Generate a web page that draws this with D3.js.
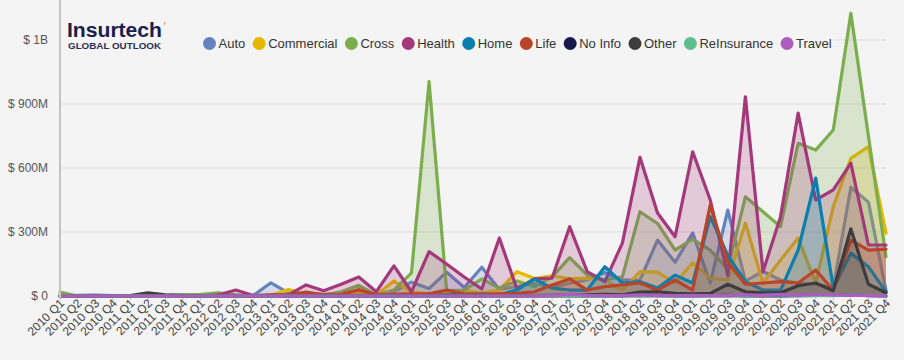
<!DOCTYPE html>
<html><head><meta charset="utf-8">
<script src="https://cdn.jsdelivr.net/npm/d3@7/dist/d3.min.js"></script>
<style>
html,body{margin:0;padding:0;background:#f4f4f4;}
svg{display:block;font-family:"Liberation Sans",Arial,sans-serif;}
</style></head>
<body><svg id="chart" width="904" height="360"></svg>
<script>
const quarters = ["2010 Q1","2010 Q2","2010 Q3","2010 Q4","2011 Q1","2011 Q2","2011 Q3","2011 Q4",
"2012 Q1","2012 Q2","2012 Q3","2012 Q4","2013 Q1","2013 Q2","2013 Q3","2013 Q4",
"2014 Q1","2014 Q2","2014 Q3","2014 Q4","2015 Q1","2015 Q2","2015 Q3","2015 Q4",
"2016 Q1","2016 Q2","2016 Q3","2016 Q4","2017 Q1","2017 Q2","2017 Q3","2017 Q4",
"2018 Q1","2018 Q2","2018 Q3","2018 Q4","2019 Q1","2019 Q2","2019 Q3","2019 Q4",
"2020 Q1","2020 Q2","2020 Q3","2020 Q4","2021 Q1","2021 Q2","2021 Q3","2021 Q4"];

const seriesNames = ["Auto","Commercial","Cross","Health","Home","Life","No Info","Other","ReInsurance","Travel"];
const seriesColors = ["#6382bf","#e6b700","#7cad4f","#a3387b","#0a7fad","#b9442a","#16194a","#3d3d3d","#5dbf8d","#ad5cbf"];

// values in $ millions
const auto       = [0,3,4,2,0,1,2,6,3,2,2,3, 62,15,10,8,12,15,5,20,65,35,112,40,135,30,45,60,40,60,75,110,75,75,262,158,295,60,403,70,115,75,60,55,40,510,440,25];
const commercial = [3,0,2,0,0,2,2,3,5,8,3,2, 5,30,8,5,10,12,5,70,20,10,15,25,15,28,114,82,95,80,84,75,28,114,112,61,156,84,75,342,61,169,272,61,419,645,700,295];
const cross      = [18,0,0,0,0,5,2,5,8,15,5,0, 3,8,10,5,20,50,5,28,108,1005,25,28,80,37,70,44,90,180,98,75,90,395,340,215,267,215,125,465,395,325,716,684,778,1325,750,184];
const health     = [0,0,0,0,0,0,0,2,0,5,28,2, 5,5,52,25,55,89,20,141,20,208,150,89,33,272,33,80,84,325,114,67,248,650,389,278,676,450,95,934,114,372,857,450,497,623,239,239];
const home       = [0,0,0,0,0,0,0,0,0,0,0,0, 0,0,0,0,0,0,0,2,5,3,5,8,10,5,28,80,37,28,28,137,61,67,37,98,61,372,190,67,28,28,215,553,37,201,137,20];
const life       = [2,0,0,0,0,0,0,0,2,0,0,0, 3,2,18,5,8,30,5,8,10,10,28,10,8,10,12,20,52,80,28,44,52,61,28,75,28,427,158,55,61,67,61,122,28,262,215,220];
const noInfo     = [0,0,0,0,0,6,2,0,0,0,0,0, 0,0,0,0,0,0,0,0,0,0,0,0,0,0,0,0,0,0,0,0,0,3,2,0,0,2,3,0,0,0,2,3,3,5,2,0];
const other      = [0,0,0,0,2,15,5,2,0,0,0,0, 0,2,0,0,0,0,0,0,0,0,2,0,0,0,0,2,3,5,5,8,5,18,20,12,10,12,55,20,15,15,48,61,25,315,55,15];
const reinsurance= [0,0,0,0,0,0,0,0,0,0,0,0, 0,0,0,0,0,0,0,0,0,0,0,0,0,0,0,0,0,0,0,0,0,0,0,0,0,0,0,0,3,5,2,3,2,5,3,0];
const travel     = [0,0,0,0,0,0,0,0,0,0,0,0, 0,0,0,0,0,0,0,0,0,0,0,0,0,0,0,0,2,8,3,2,2,5,3,2,3,2,2,5,3,8,3,8,5,3,3,0];

const yTicks = [0,300,600,900,1200];
const yTickLabels = ["$ 0","$ 300M","$ 600M","$ 900M","$ 1B"];

const seriesValues = [auto,commercial,cross,health,home,life,noInfo,other,reinsurance,travel];

const svg = d3.select("#chart");
const W = 904, H = 360;
svg.append("rect").attr("width",W).attr("height",H).attr("fill","#f4f4f4");

const x = d3.scalePoint().domain(quarters).range([60, 886]);
const y = d3.scaleLinear().domain([0,1200]).range([296, 40]);

// gridlines
const grid = svg.append("g");
grid.selectAll("line").data(yTicks).join("line")
  .attr("x1",60).attr("x2",886)
  .attr("y1",d=>y(d)).attr("y2",d=>y(d))
  .attr("stroke","#dadada").attr("stroke-width",1.2);

// y labels
svg.append("g").selectAll("text").data(yTicks).join("text")
  .attr("x",48).attr("y",d=>y(d)).attr("dy","0.35em")
  .attr("text-anchor","end").attr("font-size",12).attr("fill","#555")
  .text((d,i)=>yTickLabels[i]);

// x ticks
svg.append("g").selectAll("line").data(quarters).join("line")
  .attr("x1",d=>x(d)).attr("x2",d=>x(d)).attr("y1",296).attr("y2",301)
  .attr("stroke","#cccccc").attr("stroke-width",1);

svg.append("g").selectAll("text").data(quarters).join("text")
  .attr("transform",d=>`translate(${x(d)+5},${304}) rotate(-45)`)
  .attr("text-anchor","end").attr("font-size",12).attr("fill","#444")
  .text(d=>d);

// series
const area = d3.area().x((d,i)=>x(quarters[i])).y0(y(0)).y1(d=>y(d));
const line = d3.line().x((d,i)=>x(quarters[i])).y(d=>y(d));
const sg = svg.append("g");
seriesValues.forEach((vals,k)=>{
  const g = sg.append("g");
  g.append("path").attr("d",area(vals)).attr("fill",seriesColors[k]).attr("fill-opacity",0.22);
  g.append("path").attr("d",line(vals)).attr("fill","none").attr("stroke",seriesColors[k])
    .attr("stroke-width",3.2).attr("stroke-linejoin","round").attr("stroke-linecap","round");
});

// y axis line
svg.append("line").attr("x1",60).attr("x2",60).attr("y1",0).attr("y2",299)
  .attr("stroke","#c4c4c4").attr("stroke-width",2);

// header background (hides top gridline)
svg.append("rect").attr("x",61).attr("y",14).attr("width",774).attr("height",40).attr("fill","#f4f4f4");

// logo
const logo = svg.append("g");
logo.append("text").attr("x",67).attr("y",36.5).attr("font-size",20).attr("font-weight","bold")
  .attr("fill","#1b1d4d").attr("textLength",95).attr("lengthAdjust","spacingAndGlyphs").text("Insurtech");
logo.append("text").attr("x",68).attr("y",49).attr("font-size",9.4).attr("font-weight","bold")
  .attr("fill","#2b2e5c").attr("textLength",93).attr("lengthAdjust","spacingAndGlyphs").text("GLOBAL OUTLOOK");
logo.append("path").attr("d","M164.2,22.5 L165.2,22.5 L164.6,26 Z").attr("fill","#e0452a");

// legend
const legend = svg.append("g");
let lx = 203;
seriesNames.forEach((n,k)=>{
  const it = legend.append("g");
  it.append("circle").attr("cx",lx+6.5).attr("cy",43.5).attr("r",6.5).attr("fill",seriesColors[k]);
  const t = it.append("text").attr("x",lx+15.5).attr("y",48).attr("font-size",13).attr("fill","#333").text(n);
  lx += 15.5 + t.node().getComputedTextLength() + 7.4;
});
</script></body></html>
